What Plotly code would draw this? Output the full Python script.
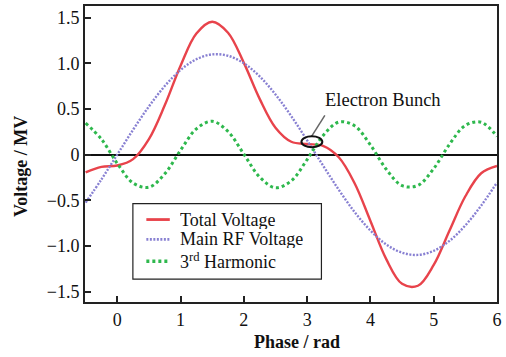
import plotly.graph_objects as go

phase = [-0.5, -0.25, 0.0, 0.25, 0.5, 0.75, 1.0, 1.25, 1.5, 1.75, 2.0, 2.25, 2.5,
         2.75, 3.0, 3.25, 3.5, 3.75, 4.0, 4.25, 4.5, 4.75, 5.0, 5.25, 5.5, 5.75, 6.0]
total_voltage = [-0.195, -0.135, -0.120, -0.050, 0.169, 0.539, 0.973, 1.326, 1.455,
                 1.334, 1.004, 0.610, 0.294, 0.140, 0.115, 0.095, -0.030, -0.314,
                 -0.727, -1.146, -1.416, -1.437, -1.209, -0.832, -0.457, -0.205, -0.125]
main_rf = [-0.527, -0.272, 0.0, 0.272, 0.527, 0.750, 0.926, 1.044, 1.097, 1.082,
           1.000, 0.856, 0.658, 0.420, 0.155, -0.119, -0.386, -0.629, -0.832, -0.985,
           -1.075, -1.099, -1.055, -0.945, -0.776, -0.559, -0.307]
harmonic = [0.344, 0.168, -0.098, -0.312, -0.358, -0.211, 0.047, 0.282, 0.364, 0.252,
            0.004, -0.246, -0.364, -0.287, -0.055, 0.206, 0.356, 0.315, 0.105, -0.161,
            -0.341, -0.338, -0.154, 0.113, 0.319, 0.354, 0.199]

series_names = ["Total Voltage", "Main RF Voltage", "3<sup>rd</sup> Harmonic"]
x_ticks = [0, 1, 2, 3, 4, 5, 6]
y_ticks = [-1.5, -1.0, -0.5, 0, 0.5, 1.0, 1.5]
y_ticktext = ["\u22121.5", "\u22121.0", "\u22120.5", "0", "0.5", "1.0", "1.5"]

serif = "Liberation Serif, Times New Roman, serif"
styles = [dict(color="#e8434b", width=2.4, dash="solid"),
          dict(color="#8880d2", width=2.4, dash="2px,1.5px"),
          dict(color="#2eb84d", width=3, dash="3px,3px")]

fig = go.Figure()
for ys, name, st in zip([total_voltage, main_rf, harmonic], series_names, styles):
    fig.add_trace(go.Scatter(x=phase, y=ys, mode="lines", name=name, showlegend=False,
                             line=dict(shape="spline", **st)))

L, R, T, B = 85, 498, 4, 302
W, H = R - L, B - T


def px(xp):
    return (xp - L) / W


def py(yp):
    return (B - yp) / H


fig.update_layout(
    width=506, height=357,
    margin=dict(l=L, r=506 - R, t=T, b=357 - B),
    paper_bgcolor="white", plot_bgcolor="white",
    font=dict(family=serif, size=18, color="#111"),
    showlegend=False,
    xaxis=dict(range=[-0.51, 6.0], tickvals=x_ticks, ticks="inside", ticklen=6,
               tickwidth=2, tickcolor="#222", showline=True, linecolor="#222",
               linewidth=2, mirror=True, showgrid=False, zeroline=False,
               tickfont=dict(family=serif, size=18)),
    yaxis=dict(range=[-1.615, 1.627], tickvals=y_ticks, ticktext=y_ticktext,
               ticks="inside", ticklen=6, tickwidth=2, tickcolor="#222",
               showline=True, linecolor="#222", linewidth=2, mirror=True,
               showgrid=False, zeroline=True, zerolinecolor="#111", zerolinewidth=2,
               tickfont=dict(family=serif, size=18)),
)

fig.add_annotation(xref="paper", yref="paper", x=px(298), y=py(342),
                   text="<b>Phase / rad</b>", showarrow=False,
                   font=dict(family=serif, size=18), xanchor="center", yanchor="middle")
fig.add_annotation(xref="paper", yref="paper", x=px(21), y=py(166),
                   text="<b>Voltage / MV</b>", showarrow=False, textangle=-90,
                   font=dict(family=serif, size=18), xanchor="center", yanchor="middle")
fig.add_annotation(x=3.245, y=0.6, text="Electron Bunch", showarrow=False,
                   xanchor="left", yanchor="middle", font=dict(family=serif, size=18.5))

fig.add_shape(type="line", x0=3.28, y0=0.43, x1=3.07, y1=0.2,
              line=dict(color="#666", width=1.5))
fig.add_shape(type="circle", x0=2.91, x1=3.24, y0=0.08, y1=0.2,
              line=dict(color="#111", width=2))

# legend box
fig.add_shape(type="rect", xref="paper", yref="paper", x0=px(133), x1=px(322),
              y0=py(279), y1=py(203), line=dict(color="#222", width=1.2),
              fillcolor="white", layer="above")
for i, (name, st) in enumerate(zip(series_names, styles)):
    yy = [219, 239, 261][i]
    fig.add_shape(type="line", xref="paper", yref="paper", x0=px(146.5), x1=px(170),
                  y0=py(yy), y1=py(yy), line=dict(color=st["color"], width=st["width"] + 0.4,
                                                  dash=st["dash"]), layer="above")
    fig.add_annotation(xref="paper", yref="paper", x=px(179), y=py(yy),
                       text=name, showarrow=False, xanchor="left", yanchor="middle",
                       height=18, borderpad=0,
                       font=dict(family=serif, size=18))

fig.write_html("out.html")
